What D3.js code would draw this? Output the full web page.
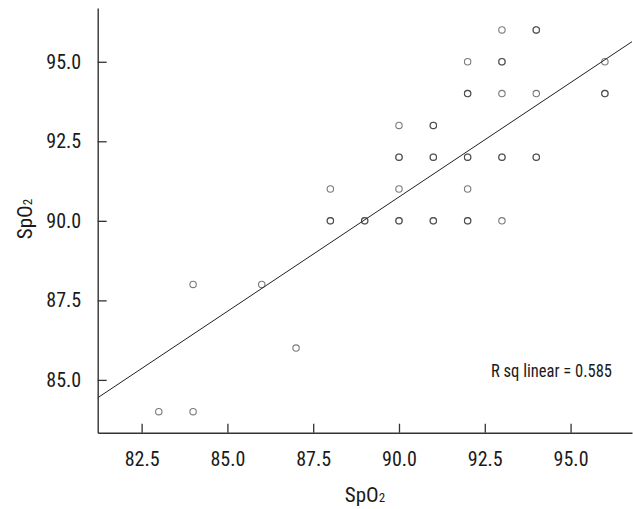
<!DOCTYPE html>
<html>
<head>
<meta charset="utf-8">
<script src="https://cdn.jsdelivr.net/npm/d3@7"></script>
<style>
  html, body { margin: 0; padding: 0; background: #fff; }
  svg text { font-family: "Liberation Sans Narrow", "Arial Narrow", "Roboto Condensed", sans-serif; fill: #1a1a1a; }
</style>
</head>
<body>
<svg id="chart" width="633" height="509"></svg>
<script>
// ---- data ----
const xValues = [83, 84, 84, 86, 87, 88, 88, 89, 90, 90, 90, 90, 91, 91, 91, 92, 92, 92, 92, 92, 93, 93, 93, 93, 93, 94, 94, 94, 96, 96];
const yValues = [84, 84, 88, 88, 86, 90, 91, 90, 90, 91, 92, 93, 90, 92, 93, 90, 91, 92, 94, 95, 90, 92, 94, 95, 96, 92, 94, 96, 94, 95];
const counts  = [ 1,  1,  1,  1,  1,  2,  1,  2,  2,  1,  2,  1,  2,  2,  2,  2,  1,  2,  2,  1,  1,  2,  1,  2,  1,  2,  1,  2,  2,  1];
const xTicks = [82.5, 85.0, 87.5, 90.0, 92.5, 95.0];
const yTicks = [85.0, 87.5, 90.0, 92.5, 95.0];
const fitSlope = 0.719;
const fitIntercept = 26.04;
const rsqLabel = "R sq linear = 0.585";
const xDomain = [81.22, 96.79];
const yDomain = [83.34, 96.69];

// ---- drawing ----
(function () {
const svg = d3.select("#chart");
const mLeft = 97.7, mRight = 632, mTop = 8, mBottom = 432.7;

const x = d3.scaleLinear().domain(xDomain).range([mLeft, mRight]);
const y = d3.scaleLinear().domain(yDomain).range([mBottom, mTop]);

// fit line
const fx0 = xDomain[0], fx1 = xDomain[1];
svg.append("line")
  .attr("x1", x(fx0)).attr("y1", y(fitIntercept + fitSlope * fx0))
  .attr("x2", x(fx1)).attr("y2", y(fitIntercept + fitSlope * fx1))
  .attr("stroke", "#222").attr("stroke-width", 1);

// points (duplicates overlap to darken)
const pts = [];
xValues.forEach((v, i) => { for (let k = 0; k < counts[i]; k++) pts.push({x: v, y: yValues[i]}); });
svg.append("g").selectAll("circle").data(pts).join("circle")
  .attr("cx", d => x(d.x)).attr("cy", d => y(d.y)).attr("r", 3.2)
  .attr("fill", "none").attr("stroke", "#333").attr("stroke-opacity", 0.65).attr("stroke-width", 1.1);

// axes
const xAxis = d3.axisBottom(x).tickValues(xTicks).tickFormat(d3.format(".1f"))
  .tickSize(-9).tickSizeOuter(0).tickPadding(19);
const gx = svg.append("g").attr("transform", `translate(0,${mBottom})`).call(xAxis);
const yAxis = d3.axisLeft(y).tickValues(yTicks).tickFormat(d3.format(".1f"))
  .tickSize(-9).tickSizeOuter(0).tickPadding(16.5);
const gy = svg.append("g").attr("transform", `translate(${mLeft},0)`).call(yAxis);

[gx, gy].forEach(g => {
  g.select(".domain").attr("stroke", "#333").attr("stroke-width", 1.4);
  g.selectAll(".tick line").attr("stroke", "#333").attr("stroke-width", 1.3);
  g.selectAll(".tick text").attr("font-size", 20).attr("fill", "#1a1a1a")
    .attr("font-family", "'Liberation Sans Narrow', 'Arial Narrow', sans-serif");
});

// axis titles
const xt = svg.append("text").attr("x", 365).attr("y", 502).attr("text-anchor", "middle").attr("font-size", 21);
xt.append("tspan").text("SpO");
xt.append("tspan").attr("font-size", 13).text("2");

const yt = svg.append("text").attr("transform", "translate(32,219) rotate(-90)").attr("text-anchor", "middle").attr("font-size", 21);
yt.append("tspan").text("SpO");
yt.append("tspan").attr("font-size", 13).text("2");

// R sq label
svg.append("text").attr("x", 491).attr("y", 376.5).attr("font-size", 18)
  .attr("textLength", 121).attr("lengthAdjust", "spacingAndGlyphs").text(rsqLabel);
})();
</script>
</body>
</html>
